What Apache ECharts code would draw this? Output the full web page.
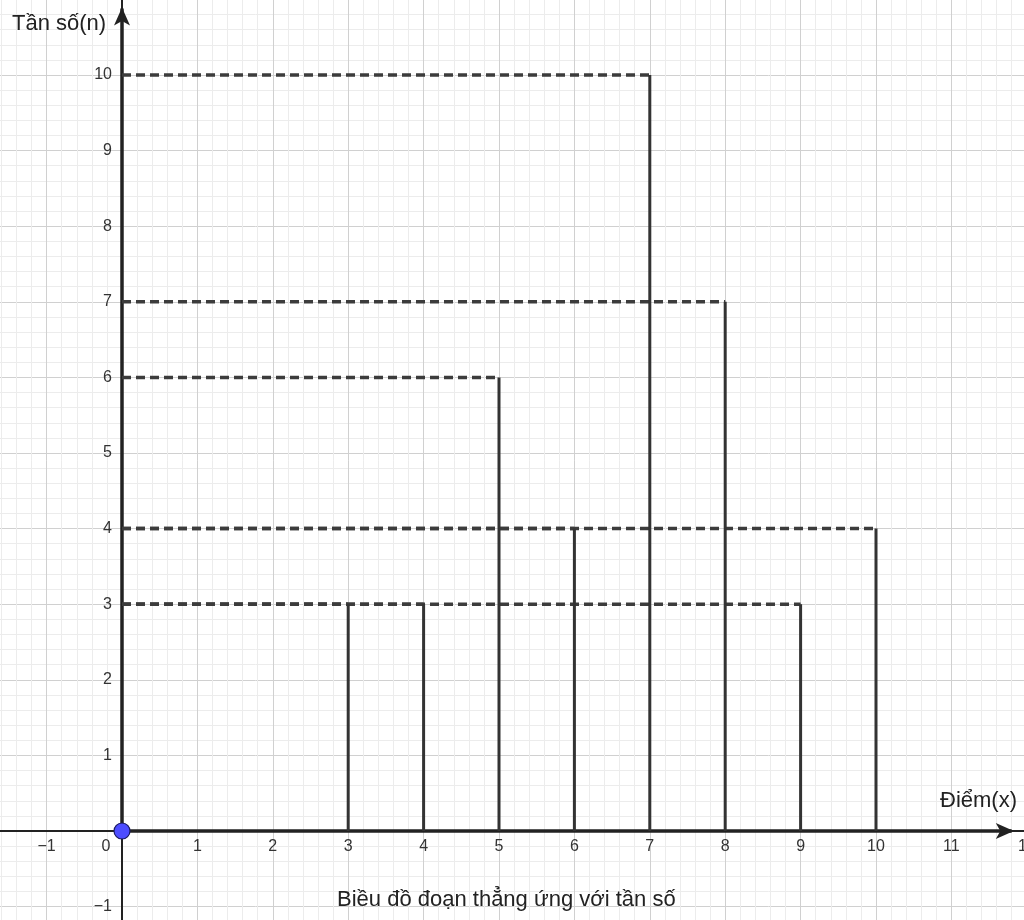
<!DOCTYPE html>
<html><head><meta charset="utf-8">
<script src="https://cdn.jsdelivr.net/npm/echarts@6/dist/echarts.min.js"></script>
<style>html,body{margin:0;padding:0;background:#fff}#c{width:1024px;height:920px}</style>
</head><body><div id="c"></div>
<script>
// Data
const scores = [3, 4, 5, 6, 7, 8, 9, 10];
const freqs = [3, 3, 6, 4, 10, 7, 3, 4];
const xTickLabels = [-1, 0, 1, 2, 3, 4, 5, 6, 7, 8, 9, 10, 11, 12];
const yTickLabels = [-1, 1, 2, 3, 4, 5, 6, 7, 8, 9, 10];
const xTitle = 'Điểm(x)';
const yTitle = 'Tần số(n)';
const caption = 'Biều đồ đoạn thẳng ứng với tần số';
const xRange = [-2, 12];
const yRange = [-2, 11];

const FONT = '"Liberation Sans", Arial, sans-serif';
const LABEL_COLOR = '#333';
const fmt = v => (v < 0 ? '\u2212' + (-v) : String(v));

const chart = echarts.init(document.getElementById('c'), null, { renderer: 'canvas' });
const pts = scores.map((s, i) => [s, freqs[i]]);

const axisCommon = {
  type: 'value',
  interval: 1,
  axisTick: { show: false },
  axisLabel: { show: false },
  splitLine: { show: true, lineStyle: { color: '#d0d0d0', width: 1 } },
  minorTick: { show: false, splitNumber: 5 },
  minorSplitLine: { show: true, lineStyle: { color: '#ececec', width: 1 } },
};
const titleStyle = { fontFamily: FONT, fontSize: 22, fontWeight: 'normal', color: '#222' };

chart.setOption({
  animation: false,
  backgroundColor: '#fff',
  title: [
    { text: yTitle, left: 12, top: 13, padding: 0, textStyle: titleStyle },
    { text: xTitle, left: 940, top: 790, padding: 0, textStyle: titleStyle },
    { text: caption, left: 337, top: 889, padding: 0, textStyle: titleStyle }
  ],
  grid: { left: -28.8, right: -2.8, top: -0.6, bottom: -62.2, containLabel: false, outerBoundsMode: 'none' },
  xAxis: Object.assign({}, axisCommon, {
    min: xRange[0], max: xRange[1],
    axisLine: { show: true, onZero: true, symbol: ['none', 'arrow'], symbolSize: [12, 18], symbolOffset: [0, -13],
      lineStyle: { color: '#222', width: 2 } }
  }),
  yAxis: Object.assign({}, axisCommon, {
    min: yRange[0], max: yRange[1],
    axisLine: { show: true, onZero: true, symbol: ['none', 'arrow'], symbolSize: [12, 18], symbolOffset: [0, -8],
      lineStyle: { color: '#222', width: 2 } }
  }),
  series: [
    { // thicker positive half-axes
      type: 'custom', silent: true, z: 3,
      data: [[0, 0]],
      renderItem: (params, api) => {
        const o = api.coord([0, 0]);
        const ex = api.coord([xRange[1] - 0.2, 0]);
        const ey = api.coord([0, yRange[1] - 0.12]);
        return { type: 'group', children: [
          { type: 'line', shape: { x1: o[0], y1: o[1], x2: ex[0], y2: ex[1] }, style: { stroke: '#222', lineWidth: 3.5 } },
          { type: 'line', shape: { x1: o[0], y1: o[1], x2: ey[0], y2: ey[1] }, style: { stroke: '#222', lineWidth: 3.5 } }
        ] };
      }
    },
    { // x tick labels
      type: 'custom', silent: true, z: 6, clip: false,
      data: xTickLabels.map(v => [v, 0]),
      renderItem: (params, api) => {
        const v = api.value(0);
        const p = api.coord([v, 0]);
        return { type: 'text', x: p[0] + (v === 0 ? -16 : 0), y: p[1] + 16,
          style: { text: fmt(v), fontSize: 16, fontFamily: FONT, fill: LABEL_COLOR, align: 'center', verticalAlign: 'middle' } };
      }
    },
    { // y tick labels
      type: 'custom', silent: true, z: 6, clip: false,
      data: yTickLabels.map(v => [0, v]),
      renderItem: (params, api) => {
        const v = api.value(1);
        const p = api.coord([0, v]);
        return { type: 'text', x: p[0] - 10, y: p[1],
          style: { text: fmt(v), fontSize: 16, fontFamily: FONT, fill: LABEL_COLOR, align: 'right', verticalAlign: 'middle' } };
      }
    },
    { // dashed horizontal guides
      type: 'custom', z: 4, silent: true,
      data: pts,
      renderItem: (params, api) => {
        const x = api.value(0), n = api.value(1);
        const a = api.coord([0, n]), b = api.coord([x, n]);
        return { type: 'line', shape: { x1: a[0], y1: a[1], x2: b[0], y2: b[1] },
          style: { stroke: '#3c3c3c', lineWidth: 3.5, lineDash: [9, 5] } };
      }
    },
    { // vertical segments
      type: 'custom', z: 5, silent: true,
      data: pts,
      renderItem: (params, api) => {
        const x = api.value(0), n = api.value(1);
        const a = api.coord([x, 0]), b = api.coord([x, n]);
        return { type: 'line', shape: { x1: a[0], y1: a[1], x2: b[0], y2: b[1] },
          style: { stroke: '#333', lineWidth: 3 } };
      }
    },
    { // origin point
      type: 'scatter', z: 10, data: [[0, 0]], symbolSize: 16,
      itemStyle: { color: '#4d4dff', borderColor: '#1a1a60', borderWidth: 1.2, opacity: 1 }
    }
  ]
});
</script>
</body></html>
